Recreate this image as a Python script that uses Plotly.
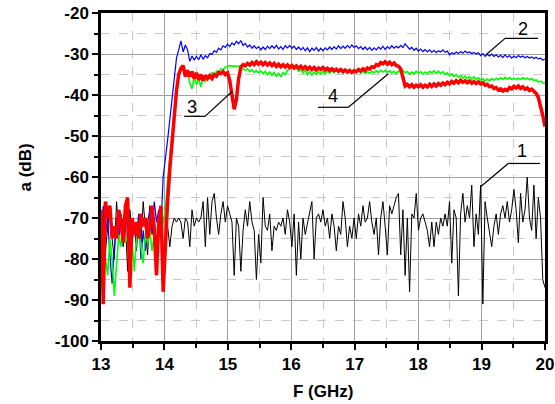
import numpy as np
import plotly.graph_objects as go

# Frequency grid (GHz), 201 samples from 13 to 20
freq = np.round(13 + 0.035 * np.arange(201), 3)

# Curve 1 (black) - noise floor
curve1 = [
    -74, -70, -78, -72, -67, -75, -80, -66, -73, -70,
    -77, -71, -83, -68, -74, -72, -78, -69, -76, -66,
    -73, -79, -67, -74, -70, -77, -71, -73, -70, -70,
    -72, -77, -72, -70, -71, -70, -71, -75, -70, -71,
    -77, -68, -72, -70, -71, -70, -66, -77, -65, -74,
    -66, -64, -70, -74, -69, -66, -71, -67, -69, -71,
    -84, -70, -72, -83, -73, -68, -72, -66, -71, -73,
    -85, -74, -81, -65, -72, -73, -69, -78, -72, -73,
    -71, -72, -70, -74, -68, -71, -77, -69, -84, -71,
    -80, -70, -74, -71, -69, -66, -80, -70, -69, -71,
    -68, -72, -70, -75, -69, -72, -78, -72, -74, -66,
    -70, -77, -72, -75, -70, -75, -69, -72, -67, -71,
    -70, -66, -71, -74, -70, -79, -70, -66, -72, -79,
    -67, -69, -67, -65, -64, -79, -68, -84, -70, -88,
    -69, -70, -64, -73, -70, -69, -71, -73, -77, -71,
    -77, -71, -74, -70, -72, -69, -72, -66, -81, -68,
    -70, -89, -69, -64, -71, -67, -70, -62, -77, -69,
    -74, -62, -91, -66, -70, -73, -77, -72, -69, -74,
    -69, -67, -70, -66, -71, -68, -63, -68, -76, -64,
    -71, -68, -60, -70, -73, -62, -75, -65, -70, -85,
    -87,
]

# Curve 2 (blue)
curve2 = [
    -80, -67, -74, -70, -79, -86, -78, -70, -76, -69,
    -72, -67, -74, -70, -76, -72, -75, -69, -80, -73,
    -78, -71, -68, -73, -66, -71, -68, -72, -60, -56,
    -51, -46, -41, -35, -31, -29, -26.8, -29.5, -27.8, -29,
    -31.8, -30.5, -31.5, -30.6, -31.4, -30.2, -31.3, -30.4, -30.9, -29.9,
    -30.1, -29.2, -29.6, -28.6, -29.0, -28.0, -28.4, -27.6, -28.2, -27.3,
    -27.8, -26.9, -27.5, -26.7, -27.9, -27.4, -28.3, -27.8, -28.6, -28.0,
    -28.7, -28.2, -29.0, -28.3, -28.9, -28.1, -28.7, -28.0, -28.6, -27.9,
    -28.8, -28.2, -28.9, -28.0, -28.5, -27.9, -28.6, -28.1, -28.9, -28.3,
    -29.0, -28.4, -29.2, -28.5, -29.4, -28.6, -29.1, -28.4, -29.3, -28.6,
    -29.2, -28.5, -29.0, -28.3, -28.9, -28.2, -28.8, -28.0, -28.7, -28.1,
    -28.6, -27.9, -28.5, -27.8, -28.4, -28.0, -28.7, -28.2, -28.9, -28.3,
    -29.0, -28.4, -29.1, -28.5, -29.0, -28.3, -28.8, -28.1, -28.9, -28.2,
    -28.7, -28.0, -28.6, -28.1, -28.5, -27.9, -28.4, -27.5, -28.3, -28.8,
    -28.4, -29.1, -28.6, -29.3, -28.8, -29.4, -28.9, -29.5, -29.0, -29.6,
    -29.1, -29.7, -29.2, -29.5, -29.0, -29.6, -29.3, -30.2, -29.7, -30.0,
    -29.5, -29.9, -29.4, -29.8, -29.3, -29.7, -29.5, -29.9, -29.6, -30.0,
    -29.7, -30.4, -29.9, -30.6, -30.1, -30.5, -30.0, -30.6, -30.2, -30.7,
    -30.3, -30.9, -30.2, -30.8, -30.4, -31.0, -30.5, -30.9, -30.4, -30.8,
    -30.5, -30.9, -30.6, -31.0, -30.7, -31.1, -30.8, -31.2, -31.0, -31.5,
    -31.2,
]

# Curve 3 (red)
curve3 = [
    -68, -91, -66, -70, -67, -75, -72, -75, -68, -71,
    -76, -67, -65, -87, -70, -74, -71, -75, -69, -72,
    -70, -75, -72, -67, -73, -84, -71, -67, -88, -75,
    -66, -58, -51, -45, -39, -35, -33.5, -32.8, -35.5, -34,
    -35.5, -34.3, -36, -34.6, -36.3, -35, -36.5, -35.2, -36, -35.3,
    -36, -35, -35.4, -34.5, -34.8, -34.3, -35.0, -34.6, -36.5, -40,
    -43.5, -41, -36, -33.2, -32.6, -32.9, -32.3, -32.7, -32.1, -32.6,
    -31.9, -32.5, -32.0, -32.6, -32.1, -32.7, -32.2, -32.8, -32.3, -33.0,
    -32.5, -33.1, -32.6, -33.2, -32.7, -33.3, -32.8, -33.4, -32.9, -33.5,
    -33.0, -33.6, -33.1, -33.7, -33.2, -33.8, -33.3, -33.9, -33.4, -33.8,
    -33.3, -33.9, -33.5, -34.0, -33.6, -34.1, -33.7, -34.2, -33.8, -34.3,
    -33.9, -34.4, -34.0, -34.5, -34.1, -34.3, -33.8, -34.2, -33.6, -34.0,
    -33.4, -33.7, -33.1, -33.3, -32.6, -32.8, -32.1, -32.4, -31.9, -32.5,
    -32.0, -32.6, -32.2, -32.8, -33.0, -33.6, -36.0, -37.8, -37.4, -38.0,
    -37.5, -38.1, -37.6, -38.0, -37.5, -38.1, -37.6, -38.0, -37.4, -37.9,
    -37.3, -37.8, -37.2, -37.6, -37.1, -37.5, -36.9, -37.3, -36.7, -37.1,
    -36.5, -37.0, -36.4, -36.9, -36.5, -37.0, -36.6, -37.1, -36.7, -37.2,
    -36.8, -37.3, -37.0, -37.6, -37.4, -38.0, -37.8, -38.4, -38.2, -38.8,
    -38.5, -39.0, -38.6, -38.9, -38.2, -38.5, -37.9, -38.3, -37.8, -38.4,
    -38.0, -38.6, -38.3, -38.9, -38.6, -39.0, -39.6, -40.6, -42.5, -45.0,
    -47.7,
]

# Curve 4 (green)
curve4 = [
    -81, -77, -80, -84, -75, -80, -89, -82, -74, -77,
    -73, -76, -74, -79, -76, -83, -75, -73, -77, -81,
    -74, -76, -73, -78, -74, -76, -72, -75, -71, -68,
    -61, -55, -49, -43, -38, -35, -33.5, -33, -35.5, -34.5,
    -37, -38.5, -35.5, -37.5, -36, -38, -35.5, -36.8, -35.2, -36,
    -34.5, -35.3, -34.2, -34.8, -33.6, -33.9, -33.2, -33.0, -32.8, -33.0,
    -32.9, -33.1, -32.9, -33.3, -33.6, -34.0, -33.6, -34.3, -33.8, -34.5,
    -34.0, -34.6, -34.1, -34.8, -34.2, -35.0, -34.4, -35.2, -34.5, -35.5,
    -34.6, -35.6, -34.5, -35.0, -34.0, -33.6, -33.2, -33.5, -33.3, -34.2,
    -33.8, -34.6, -34.0, -35.0, -34.3, -35.1, -34.4, -35.0, -34.3, -34.9,
    -34.2, -34.8, -34.1, -34.7, -34.0, -34.6, -33.9, -34.5, -33.8, -34.6,
    -34.0, -34.7, -34.1, -34.5, -33.8, -34.4, -34.0, -34.6, -34.2, -34.8,
    -34.3, -34.7, -34.2, -34.6, -34.1, -34.5, -34.0, -34.4, -34.0, -34.5,
    -34.1, -34.6, -34.2, -34.8, -34.1, -34.5, -34.0, -34.6, -34.3, -34.9,
    -34.4, -34.8, -34.2, -34.7, -34.3, -34.9, -34.4, -34.8, -34.2, -34.6,
    -34.1, -34.7, -34.2, -34.8, -34.3, -35.0, -34.6, -35.3, -34.8, -35.5,
    -35.0, -35.7, -35.2, -35.9, -35.4, -36.0, -35.5, -36.1, -35.6, -36.2,
    -35.8, -36.4, -36.0, -36.6, -36.1, -36.5, -36.0, -36.4, -35.9, -36.3,
    -35.8, -36.2, -35.7, -36.1, -35.8, -36.2, -35.9, -36.3, -35.9, -36.2,
    -35.8, -36.1, -35.9, -36.3, -36.0, -36.5, -36.3, -36.8, -36.6, -37.0,
    -37.2,
]

curve_labels = ["1", "2", "3", "4"]
x_ticks = [13, 14, 15, 16, 17, 18, 19, 20]
y_ticks = [-100, -90, -80, -70, -60, -50, -40, -30, -20]

FONT = "Arial, Liberation Sans, sans-serif"

fig = go.Figure()
fig.add_trace(go.Scatter(x=freq, y=curve1, mode="lines",
                         line=dict(color="#000000", width=1), name="1"))
fig.add_trace(go.Scatter(x=freq, y=curve2, mode="lines",
                         line=dict(color="#0000FF", width=1.2), name="2"))
fig.add_trace(go.Scatter(x=freq, y=curve4, mode="lines",
                         line=dict(color="#00FF00", width=1.6), name="4"))
fig.add_trace(go.Scatter(x=freq, y=curve3, mode="lines",
                         line=dict(color="#FF0000", width=3.5), name="3"))

# leader lines: (label, text pos, horizontal segment, pointer end)
leaders = [
    ("1", (19.64, -53.6), (19.42, 19.92, -56.7), (18.99, -62.3)),
    ("2", (19.66, -23.9), (19.37, 19.89, -26.2), (19.07, -30.2)),
    ("3", (14.44, -42.9), (14.31, 14.64, -45.2), (15.07, -39.1)),
    ("4", (16.66, -40.3), (16.42, 16.90, -43.0), (17.53, -34.8)),
]
for lab, tpos, hseg, pend in leaders:
    fig.add_shape(type="line", xref="x", yref="y", x0=hseg[0], x1=hseg[1],
                  y0=hseg[2], y1=hseg[2], line=dict(color="black", width=1.2))
    fig.add_shape(type="line", xref="x", yref="y", x0=hseg[0] if lab in ("1", "2") else hseg[1],
                  x1=pend[0], y0=hseg[2], y1=pend[1],
                  line=dict(color="black", width=1.2))
    fig.add_annotation(x=tpos[0], y=tpos[1], xref="x", yref="y", text=lab,
                       showarrow=False, font=dict(family=FONT, size=18, color="black"))

# axis titles
fig.add_annotation(x=0, y=0.529, xref="paper", yref="paper", xshift=-76,
                   text="<b>a (dB)</b>", textangle=-90, showarrow=False,
                   xanchor="center", yanchor="middle",
                   font=dict(family=FONT, size=17, color="black"))
fig.add_annotation(x=0.5, y=0, xref="paper", yref="paper", yshift=-50,
                   text="<b>F (GHz)</b>", showarrow=False,
                   xanchor="center", yanchor="middle",
                   font=dict(family=FONT, size=17, color="black"))

axis_common = dict(
    showline=True, linecolor="black", linewidth=2.5, mirror=True,
    ticks="outside", ticklen=6, tickwidth=2, tickcolor="black",
    showgrid=True, gridcolor="#a0a0a0", gridwidth=1,
    zeroline=False, automargin=False,
    tickfont=dict(family=FONT, size=17, color="black", weight="bold"),
)

fig.update_xaxes(range=[13, 20], tickvals=x_ticks,
                 ticktext=[str(v) for v in x_ticks],
                 minor=dict(dtick=0.5, tick0=13, ticks="outside", ticklen=4,
                            tickwidth=2, tickcolor="black", showgrid=True,
                            gridcolor="#c8c8c8", griddash="dash", gridwidth=1),
                 **axis_common)
fig.update_yaxes(range=[-100, -20], tickvals=y_ticks,
                 ticktext=[str(v) for v in y_ticks],
                 minor=dict(dtick=5, tick0=-100, ticks="outside", ticklen=4,
                            tickwidth=2, tickcolor="black", showgrid=True,
                            gridcolor="#c8c8c8", griddash="dash", gridwidth=1),
                 **axis_common)

fig.update_layout(
    width=555, height=404,
    margin=dict(l=101, r=10, t=13, b=63, autoexpand=False),
    paper_bgcolor="white", plot_bgcolor="white",
    showlegend=False,
    font=dict(family=FONT, color="black"),
)

fig.write_html(
    "out.html",
    config={"displayModeBar": False},
    post_script="document.body.style.margin='0';document.body.style.overflow='hidden';",
)
